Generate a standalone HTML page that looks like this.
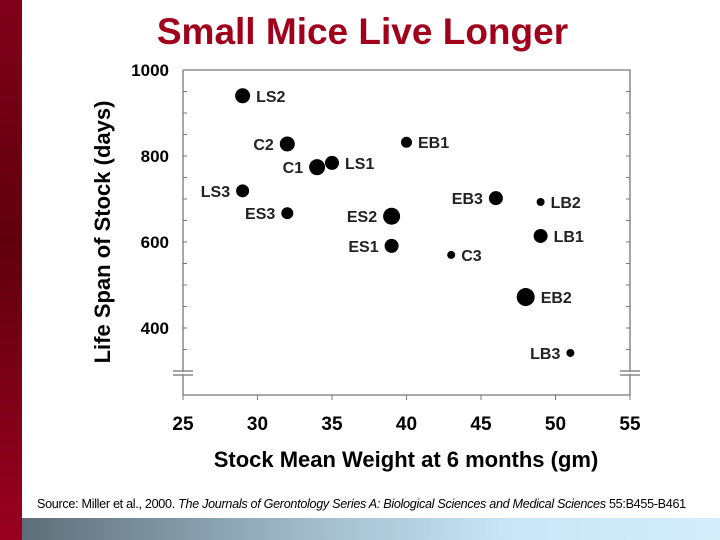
<!DOCTYPE html>
<html><head><meta charset="utf-8"><style>
body{margin:0;width:720px;height:540px;overflow:hidden;background:#fff;font-family:"Liberation Sans",sans-serif;position:relative}
#redbar{position:absolute;left:0;top:0;width:22px;height:540px;background:linear-gradient(#80001a,#60000f 45%,#9a0020)}
#bottombar{position:absolute;left:22px;top:518px;width:698px;height:22px;background:linear-gradient(90deg,#5e6e78,#9fb9c8 40%,#c8e6f6 70%,#d4eefa)}
#title{position:absolute;left:0;width:725px;top:11px;text-align:center;color:#a0001c;font-weight:bold;font-size:37px}
#source{position:absolute;left:37px;top:497px;font-size:12.6px;color:#000;white-space:nowrap;letter-spacing:-0.3px}
svg{position:absolute;left:0;top:0}
</style></head><body>
<div id="redbar"></div>
<div id="bottombar"></div>
<div id="title">Small Mice Live Longer</div>
<div id="source">Source: Miller et al., 2000. <i>The Journals of Gerontology Series A: Biological Sciences and Medical Sciences</i> 55:B455-B461</div>
<svg id="chart" width="720" height="540"></svg>
<script>
const labels=["LS2","C2","EB1","C1","LS1","LS3","ES3","ES2","ES1","EB3","LB2","LB1","C3","EB2","LB3"];
const weights=[29,32,40,34,35,29,32,39,39,46,49,49,43,48,51];
const lifespans=[940,828,832,774,784,719,667,660,591,702,693,614,570,472,342];
const sizes=[7.5,7.5,5.5,8,7,6.5,6,8.5,7,7,4,7,4,9,4];
const labelSide=["r","l","r","l","r","l","l","l","l","l","r","r","r","r","l"];
const xTicks=[25,30,35,40,45,50,55];
const yTicks=[400,600,800,1000];
const NS="http://www.w3.org/2000/svg";
const svg=document.getElementById('chart');
const X=v=>183+(v-25)*(447/30);
const Y=v=>70+(1000-v)*0.43;
function mk(t,a,txt){const e=document.createElementNS(NS,t);for(const k in a)e.setAttribute(k,a[k]);if(txt!==undefined)e.textContent=txt;svg.appendChild(e);return e;}
let f=mk('path',{d:`M183 70 H630 V395 M183 70 V395 H630`,stroke:'#777',fill:'none','stroke-width':1.3});


[[183],[630]].forEach(([x])=>{
 let b=mk('path',{d:`M${x-10} 371 H${x+10} M${x-10} 375 H${x+10}`,stroke:'#888','stroke-width':1.5});
 
 
 mk('rect',{x:x-2,y:372,width:4,height:2,fill:'#fff'});
});
for(let v=350;v<=1000;v+=50){
 mk('line',{x1:183,x2:187,y1:Y(v),y2:Y(v),stroke:'#777'});
 mk('line',{x1:626,x2:630,y1:Y(v),y2:Y(v),stroke:'#777'});
}
yTicks.forEach(v=>{
 let t=mk('text',{x:169,y:Y(v)+6,'text-anchor':'end','font-size':17,'font-weight':'bold'},v);
 
 
});
xTicks.forEach(v=>{
 mk('line',{x1:X(v),x2:X(v),y1:395,y2:400,stroke:'#777'});
 let t=mk('text',{x:X(v),y:430,'text-anchor':'middle','font-size':19,'font-weight':'bold'},v);
 
 
});
let xt=mk('text',{x:406,y:467,'text-anchor':'middle','font-size':22,'font-weight':'bold'},'Stock Mean Weight at 6 months (gm)');


let yt=mk('text',{x:0,y:0,transform:'translate(110,232) rotate(-90)','text-anchor':'middle','font-size':22,'font-weight':'bold'},'Life Span of Stock (days)');


labels.forEach((l,i)=>{
 const cx=X(weights[i]),cy=Y(lifespans[i]);
 let c=mk('circle',{cx:cx,cy:cy,r:sizes[i],fill:'#000'});
 
 
 const r=labelSide[i]==='r';
 let t=mk('text',{x:r?cx+sizes[i]+6:cx-sizes[i]-6,y:cy+6,'text-anchor':r?'start':'end','font-size':16,'font-weight':'bold','fill':'#222'},l);
 
 
});
</script>
</body></html>
